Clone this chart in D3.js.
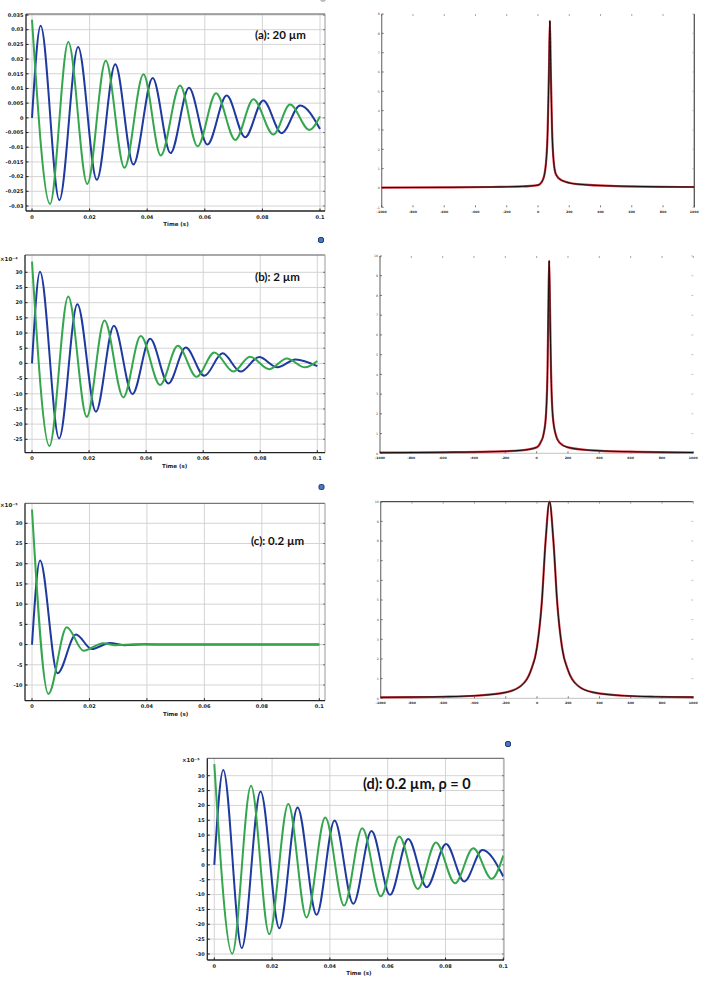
<!DOCTYPE html>
<html>
<head>
<meta charset="utf-8">
<script src="https://cdn.jsdelivr.net/npm/d3@7/dist/d3.min.js"></script>
<style>
body { margin: 0; background: #fff; }
svg { display: block; }
</style>
</head>
<body>
<svg id="fig" width="706" height="985"></svg>
<script>
// time axis ticks, shared by the four response plots
var timeTicks = [0, 0.02, 0.04, 0.06, 0.08, 0.1];

// y ticks of each response plot
var ticksA = [-0.03, -0.025, -0.02, -0.015, -0.01, -0.005, 0, 0.005, 0.01, 0.015, 0.02, 0.025, 0.03, 0.035];
var ticksB = [-25, -20, -15, -10, -5, 0, 5, 10, 15, 20, 25, 30];
var ticksC = [-10, -5, 0, 5, 10, 15, 20, 25, 30];
var ticksD = [-30, -25, -20, -15, -10, -5, 0, 5, 10, 15, 20, 25, 30];

// peaks and troughs, [time, value]
var aGreen = [[0,0.0334],[0.00625,-0.0293],[0.0126,0.0258],[0.0192,-0.0225],[0.0256,0.0194],[0.0321,-0.017],
  [0.0387,0.0148],[0.0447,-0.0128],[0.0514,0.011],[0.0575,-0.0097],[0.0639,0.0084],[0.0706,-0.0075],
  [0.0769,0.0063],[0.0838,-0.0057],[0.0896,0.0045],[0.0963,-0.0041],[0.1,0.0005]];
var aBlue = [[0,0],[0.003,0.0313],[0.0095,-0.028],[0.016,0.0241],[0.0225,-0.0211],[0.0289,0.0182],
  [0.0352,-0.0159],[0.0419,0.0136],[0.0481,-0.012],[0.0545,0.0102],[0.0609,-0.0091],[0.0676,0.0076],
  [0.074,-0.0066],[0.0803,0.0059],[0.0867,-0.0052],[0.0931,0.0042],[0.1,-0.0038]];

var bGreen = [[0,33.5],[0.0061,-27.2],[0.0127,22],[0.0192,-17.6],[0.0254,14.1],[0.032,-11.2],[0.0381,9],
  [0.0449,-7.1],[0.0511,5.8],[0.0577,-4.4],[0.0639,3.6],[0.0706,-2.7],[0.0764,2.2],[0.0832,-1.9],
  [0.0893,1.6],[0.0957,-1.3],[0.1,0.8]];
var bBlue = [[0,0],[0.0028,30.2],[0.0095,-24.7],[0.0159,19.5],[0.0224,-15.9],[0.0287,12.4],[0.0352,-10.1],
  [0.0414,8.1],[0.0478,-6.6],[0.0539,5.2],[0.0604,-4.1],[0.0668,3.3],[0.0731,-2.7],[0.0796,2.1],
  [0.086,-1.3],[0.0924,1.3],[0.1,-0.9]];

var cGreen = [[0,33.4],[0.0057,-12.2],[0.0121,4.3],[0.0179,-1.5],[0.0248,0.35],[0.029,-0.15],[0.036,0.05],[0.045,0],[0.1,0]];
var cBlue = [[0,0],[0.0028,20.8],[0.0089,-7.1],[0.0153,2.5],[0.0208,-1.1],[0.0271,0.4],[0.032,-0.15],[0.039,0.05],[0.048,0],[0.1,0]];

var dGreen = [[0,33.9],[0.0062,-29.9],[0.0127,26.6],[0.019,-23.3],[0.0256,20.5],[0.0319,-17.7],[0.0384,15.9],
  [0.0449,-13.7],[0.0512,12.3],[0.0576,-10.6],[0.064,9.5],[0.0704,-8.1],[0.0767,7.5],[0.0833,-6.2],
  [0.0896,5.6],[0.096,-4.7],[0.1,3.1]];
var dBlue = [[0,0],[0.0031,31.9],[0.0095,-28],[0.016,24.7],[0.0225,-21.3],[0.0288,19.3],[0.0354,-16.8],
  [0.0416,14.9],[0.0481,-13.1],[0.0544,11.4],[0.0608,-10.1],[0.0671,8.7],[0.0735,-7.5],[0.0802,7],
  [0.0865,-5.6],[0.0928,5],[0.1,-3.9]];

// spectra on the right, [frequency, amplitude]
var freqTicks = [-1000, -800, -600, -400, -200, 0, 200, 400, 600, 800, 1000];
var ampTicksA = [-1, 0, 1, 2, 3, 4, 5, 6, 7, 8, 9];
var ampTicks = [0, 1, 2, 3, 4, 5, 6, 7, 8, 9, 10];

var specA = [[-1000,0.02],[-600,0.03],[-300,0.05],[-100,0.08],[0,0.15],[30,0.4],[50,1.2],[62,3],[70,6],
  [76,8.65],[82,6],[90,3],[100,1.4],[115,0.7],[150,0.4],[250,0.2],[500,0.1],[1000,0.05]];
var specB = [[-1000,0.03],[-600,0.05],[-300,0.08],[-100,0.15],[0,0.3],[25,0.55],[45,1],[60,2],[70,4.5],
  [75,7.5],[80,9.76],[85,7.5],[91,4.5],[102,2],[120,1],[145,0.55],[200,0.3],[350,0.15],[600,0.08],[1000,0.04]];
var specC = [[-1000,0.05],[-800,0.06],[-600,0.08],[-400,0.13],[-200,0.3],[-100,0.65],[-40,1.4],[0,2.6],[30,4.8],
  [55,8],[80,10],[105,8],[130,4.8],[160,2.6],[200,1.4],[260,0.65],[360,0.3],[560,0.13],[760,0.08],[1000,0.06]];

var GREEN = "#35a64e", BLUE = "#1f3a9e";

var svg = d3.select("#fig");
svg.append("rect").attr("width", 706).attr("height", 985).attr("fill", "#fff");

var fmt = function(v) { return String(+v.toFixed(4)); };

// ---- response plots (left column + bottom)
var leftPanels = [
  {id: "a", green: aGreen, blue: aBlue, yTicks: ticksA, yDom: [-0.03, 0.035], box: [26, 14, 325, 211],
   xr: [32, 320], yr: [206, 15], label: "(a): 20 \u00b5m", lx: 255, ly: 39, fs: 11.5, mult: null},
  {id: "b", green: bGreen, blue: bBlue, yTicks: ticksB, yDom: [-25, 30], box: [25, 255, 325, 452.7],
   xr: [32, 317.3], yr: [439.3, 272.3], label: "(b): 2 \u00b5m", lx: 255, ly: 281, fs: 11.5, mult: [0, 261]},
  {id: "c", green: cGreen, blue: cBlue, yTicks: ticksC, yDom: [-10, 30], box: [25, 503.3, 325, 700.7],
   xr: [32, 319.3], yr: [685, 523.3], label: "(c): 0.2 \u00b5m", lx: 251, ly: 545, fs: 11.5, mult: [0, 507]},
  {id: "d", green: dGreen, blue: dBlue, yTicks: ticksD, yDom: [-30, 30], box: [207.3, 758.3, 504, 960],
   xr: [214.3, 503.3], yr: [954, 775.7], label: "(d): 0.2 \u00b5m, \u03c1 = 0", lx: 363, ly: 789, fs: 14.5, mult: [182, 762]}
];
var multText = {b: "\u00d710\u207b\u2074", c: "\u00d710\u207b\u2075", d: "\u00d710\u207b\u2075"};

leftPanels.forEach(function(p) {
  var x = d3.scaleLinear().domain([0, 0.1]).range(p.xr);
  var y = d3.scaleLinear().domain(p.yDom).range(p.yr);
  var b = p.box;
  var g = svg.append("g");

  g.append("clipPath").attr("id", "clip" + p.id)
    .append("rect").attr("x", b[0]).attr("y", b[1]).attr("width", b[2] - b[0]).attr("height", b[3] - b[1]);

  // grid
  g.selectAll(null).data(timeTicks).enter().append("line")
    .attr("x1", function(d) { return x(d); }).attr("x2", function(d) { return x(d); })
    .attr("y1", b[1]).attr("y2", b[3]).attr("stroke", "#cfcfcf").attr("stroke-width", 0.9);
  g.selectAll(null).data(p.yTicks).enter().append("line")
    .attr("y1", function(d) { return y(d); }).attr("y2", function(d) { return y(d); })
    .attr("x1", b[0]).attr("x2", b[2]).attr("stroke", "#cfcfcf").attr("stroke-width", 0.9);

  // curves, green drawn last (it sits on top in the flat tail of (c))
  var line = d3.line().x(function(d) { return x(d[0]); }).y(function(d) { return y(d[1]); })
    .curve(d3.curveMonotoneX);
  var cg = g.append("g").attr("clip-path", "url(#clip" + p.id + ")");
  cg.append("path").datum(p.blue).attr("d", line).attr("fill", "none")
    .attr("stroke", BLUE).attr("stroke-width", 2);
  cg.append("path").datum(p.green).attr("d", line).attr("fill", "none")
    .attr("stroke", GREEN).attr("stroke-width", 2);

  // frame
  g.append("line").attr("x1", b[0]).attr("x2", b[2]).attr("y1", b[1]).attr("y2", b[1]).attr("stroke", "#555").attr("stroke-width", 1);
  g.append("line").attr("x1", b[2]).attr("x2", b[2]).attr("y1", b[1]).attr("y2", b[3]).attr("stroke", "#999").attr("stroke-width", 1);
  g.append("line").attr("x1", b[0]).attr("x2", b[0]).attr("y1", b[1]).attr("y2", b[3]).attr("stroke", "#222").attr("stroke-width", 1.3);
  g.append("line").attr("x1", b[0]).attr("x2", b[2]).attr("y1", b[3]).attr("y2", b[3]).attr("stroke", "#222").attr("stroke-width", 1.3);

  // ticks
  g.selectAll(null).data(timeTicks).enter().append("line")
    .attr("x1", function(d) { return x(d); }).attr("x2", function(d) { return x(d); })
    .attr("y1", b[3]).attr("y2", b[3] - 2.5).attr("stroke", "#222");
  g.selectAll(null).data(p.yTicks).enter().append("line")
    .attr("y1", function(d) { return y(d); }).attr("y2", function(d) { return y(d); })
    .attr("x1", b[0]).attr("x2", b[0] + 2.5).attr("stroke", "#222");
  g.selectAll(null).data(p.yTicks).enter().append("line")
    .attr("y1", function(d) { return y(d); }).attr("y2", function(d) { return y(d); })
    .attr("x1", b[2]).attr("x2", b[2] - 2).attr("stroke", "#777");

  // tick labels
  g.selectAll(null).data(timeTicks).enter().append("text")
    .attr("x", function(d) { return x(d); }).attr("y", b[3] + 7.5)
    .attr("text-anchor", "middle").attr("font-family", "DejaVu Sans").attr("font-weight", "bold")
    .attr("font-size", 5).attr("fill", "#222").text(fmt);
  g.selectAll(null).data(p.yTicks).enter().append("text")
    .attr("x", b[0] - 2.5).attr("y", function(d) { return y(d) + 1.8; })
    .attr("text-anchor", "end").attr("font-family", "DejaVu Sans").attr("font-weight", "bold")
    .attr("font-size", 5).attr("fill", "#222").text(fmt);
  g.append("text").attr("x", (p.xr[0] + p.xr[1]) / 2).attr("y", b[3] + 15)
    .attr("text-anchor", "middle").attr("font-family", "DejaVu Sans").attr("font-weight", "bold")
    .attr("font-size", 5.5).attr("fill", "#222").text("Time (s)");

  if (p.mult) {
    g.append("text").attr("x", p.mult[0]).attr("y", p.mult[1])
      .attr("font-family", "DejaVu Sans").attr("font-weight", "bold")
      .attr("font-size", 5.5).attr("fill", "#222").text(multText[p.id]);
  }

  g.append("text").attr("x", p.lx).attr("y", p.ly)
    .attr("font-family", "Lato").attr("font-weight", "bold").attr("font-size", p.fs)
    .attr("fill", "#111").text(p.label);
});

// ---- spectra (right column)
var rightPanels = [
  {id: "ra", data: specA, yTicks: ampTicksA, yDom: [-1, 9], box: [381.7, 14, 694.3, 207.3], top: false, right: true, bottom: false},
  {id: "rb", data: specB, yTicks: ampTicks, yDom: [0, 10], box: [380, 256, 693.3, 453.3], top: false, right: false, bottom: true},
  {id: "rc", data: specC, yTicks: ampTicks, yDom: [0, 10], box: [380.7, 501.7, 693.3, 698.3], top: true, right: false, bottom: true}
];

rightPanels.forEach(function(p) {
  var b = p.box;
  var x = d3.scaleLinear().domain([-1000, 1000]).range([b[0], b[2]]);
  var y = d3.scaleLinear().domain(p.yDom).range([b[3], b[1]]);
  var g = svg.append("g");

  g.append("line").attr("x1", b[0]).attr("x2", b[0]).attr("y1", b[1]).attr("y2", b[3]).attr("stroke", "#777").attr("stroke-width", 1.2);
  if (p.right) g.append("line").attr("x1", b[2]).attr("x2", b[2]).attr("y1", b[1]).attr("y2", b[3]).attr("stroke", "#555").attr("stroke-width", 1.3);
  if (p.top) g.append("line").attr("x1", b[0]).attr("x2", b[2]).attr("y1", b[1]).attr("y2", b[1]).attr("stroke", "#222").attr("stroke-width", 1);
  if (p.bottom) g.append("line").attr("x1", b[0]).attr("x2", b[2]).attr("y1", b[3]).attr("y2", b[3]).attr("stroke", "#999").attr("stroke-width", 0.6);

  // tick marks, bottom and top
  g.selectAll(null).data(freqTicks).enter().append("line")
    .attr("x1", function(d) { return x(d); }).attr("x2", function(d) { return x(d); })
    .attr("y1", b[3]).attr("y2", b[3] - 2).attr("stroke", "#444").attr("stroke-width", 0.7);
  g.selectAll(null).data(freqTicks).enter().append("line")
    .attr("x1", function(d) { return x(d); }).attr("x2", function(d) { return x(d); })
    .attr("y1", b[1]).attr("y2", b[1] + 2).attr("stroke", "#666").attr("stroke-width", 0.6);
  g.selectAll(null).data(p.yTicks).enter().append("line")
    .attr("y1", function(d) { return y(d); }).attr("y2", function(d) { return y(d); })
    .attr("x1", b[0]).attr("x2", b[0] + 2).attr("stroke", "#444").attr("stroke-width", 0.7);
  g.selectAll(null).data(p.yTicks).enter().append("line")
    .attr("y1", function(d) { return y(d); }).attr("y2", function(d) { return y(d); })
    .attr("x1", b[2]).attr("x2", b[2] - 2).attr("stroke", "#999").attr("stroke-width", 0.6);

  g.selectAll(null).data(freqTicks).enter().append("text")
    .attr("x", function(d) { return x(d); }).attr("y", b[3] + 6)
    .attr("text-anchor", "middle").attr("font-family", "DejaVu Sans").attr("font-weight", "bold")
    .attr("font-size", 3.2).attr("fill", "#222").text(function(d) { return d; });
  g.selectAll(null).data(p.yTicks).enter().append("text")
    .attr("x", b[0] - 2).attr("y", function(d) { return y(d) + 1.2; })
    .attr("text-anchor", "end").attr("font-family", "DejaVu Sans")
    .attr("font-size", 3.2).attr("fill", "#444").text(function(d) { return d; });

  var line = d3.line().x(function(d) { return x(d[0]); }).y(function(d) { return y(d[1]); })
    .curve(d3.curveMonotoneX);
  g.append("path").datum(p.data).attr("d", line).attr("fill", "none")
    .attr("stroke", "#c8323c").attr("stroke-width", 2.2);
  g.append("path").datum(p.data).attr("d", line).attr("fill", "none")
    .attr("stroke", "#111").attr("stroke-width", 1);
});

// small markers left in the page
var marks = [[321, 240], [321.5, 487], [508, 744]];
svg.selectAll(null).data(marks).enter().append("rect")
  .attr("x", function(d) { return d[0] - 2.5; }).attr("y", function(d) { return d[1] - 2.5; })
  .attr("width", 5).attr("height", 5).attr("rx", 1.5)
  .attr("fill", "#4a78b8").attr("stroke", "#1c3c78").attr("stroke-width", 1);
svg.append("circle").attr("cx", 323).attr("cy", -1).attr("r", 3).attr("fill", "#bbb");
</script>
</body>
</html>
